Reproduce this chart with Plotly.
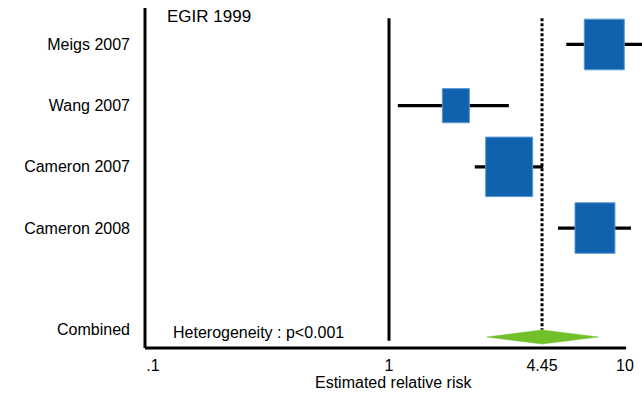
import numpy as np
import plotly.graph_objects as go

# Study-level estimates (relative risk, 95% CI) and weights (%)
studies = ["Meigs 2007", "Wang 2007", "Cameron 2007", "Cameron 2008"]
rr = [8.17, 1.92, 3.23, 7.46]
ci_low = [5.64, 1.09, 2.31, 5.20]
ci_high = [13.5, 3.22, 4.50, 10.6]
weights = [26.1, 11.9, 36.0, 26.0]

# Pooled estimate
pooled_label = "Combined"
pooled_rr = 4.45
pooled_low = 2.60
pooled_high = 7.70

x_tickvals = [0.1, 1, 4.45, 10]
x_ticktext = [".1", "1", "4.45", "10"]

FONT = "Liberation Sans, Arial, Helvetica, sans-serif"
BOX_BLUE = "#1162ae"
BOX_EDGE = "#5c9ad6"
DIAMOND_GREEN = "#72bf2c"

row_y = list(range(len(studies)))
pooled_y = 4.78
pooled_label_y = 4.66

fig = go.Figure()

# Reference line at RR = 1
fig.add_trace(go.Scatter(x=[1, 1], y=[-0.43, 4.84], mode="lines",
                         line=dict(color="black", width=3), hoverinfo="skip"))
# Dotted line at pooled estimate
fig.add_trace(go.Scatter(x=[pooled_rr, pooled_rr], y=[-0.43, pooled_y - 0.12], mode="lines",
                         line=dict(color="black", width=3, dash="3px,2px"), hoverinfo="skip"))

# Confidence interval whiskers
for y, lo, hi in zip(row_y, ci_low, ci_high):
    fig.add_trace(go.Scatter(x=[lo, hi], y=[y, y], mode="lines",
                             line=dict(color="black", width=3.3), hoverinfo="skip"))

# Weighted boxes: width (in decades) and height both scale with sqrt(weight)
for y, est, w in zip(row_y, rr, weights):
    f = 10 ** (0.0166 * np.sqrt(w))
    h = 0.081 * np.sqrt(w)
    xs = [est / f, est * f, est * f, est / f, est / f]
    ys = [y - h, y - h, y + h, y + h, y - h]
    fig.add_trace(go.Scatter(x=xs, y=ys, mode="lines", fill="toself",
                             fillcolor=BOX_BLUE, line=dict(color=BOX_EDGE, width=1),
                             hoverinfo="skip"))

# Pooled diamond
dh = 0.115
fig.add_trace(go.Scatter(
    x=[pooled_low, pooled_rr, pooled_high, pooled_rr, pooled_low],
    y=[pooled_y, pooled_y - dh, pooled_y, pooled_y + dh, pooled_y],
    mode="lines", fill="toself", fillcolor=DIAMOND_GREEN,
    line=dict(color=DIAMOND_GREEN, width=0.5), hoverinfo="skip"))

x_left = (145 - 389) / 236
x_right = (642 - 389) / 236

fig.update_layout(
    width=642, height=393,
    margin=dict(l=145, r=0, t=8, b=45),
    paper_bgcolor="white", plot_bgcolor="white",
    showlegend=False,
    font=dict(family=FONT, size=16, color="black"),
    xaxis=dict(type="log", range=[x_left, x_right], showgrid=False, zeroline=False,
               showline=False, tickvals=x_tickvals, ticktext=x_ticktext,
               ticks="", ticklabelstandoff=6,
               tickfont=dict(family=FONT, size=16, color="black")),
    yaxis=dict(range=[4.96, -0.596], showgrid=False, zeroline=False, showline=False,
               tickvals=row_y + [pooled_label_y], ticktext=studies + [pooled_label],
               ticks="", ticklabelstandoff=14,
               tickfont=dict(family=FONT, size=16, color="black")),
    shapes=[
        dict(type="line", xref="paper", yref="paper", x0=0, x1=0, y0=0, y1=1,
             line=dict(color="black", width=3)),
        dict(type="line", xref="paper", yref="paper", x0=0, x1=0.968, y0=0, y1=0,
             line=dict(color="black", width=3)),
    ],
    annotations=[
        dict(text="EGIR 1999", xref="paper", yref="y", x=0.04, y=-0.46,
             xanchor="left", yanchor="middle", showarrow=False,
             font=dict(family=FONT, size=17, color="black")),
        dict(text="Heterogeneity : p<0.001", xref="paper", yref="y", x=0.052, y=4.71,
             xanchor="left", yanchor="middle", showarrow=False,
             font=dict(family=FONT, size=16, color="black")),
        dict(text="Estimated relative risk", xref="paper", yref="paper", x=0.5, y=-0.1,
             xanchor="center", yanchor="middle", showarrow=False,
             font=dict(family=FONT, size=16, color="black")),
    ],
)

fig.write_html("out.html")
